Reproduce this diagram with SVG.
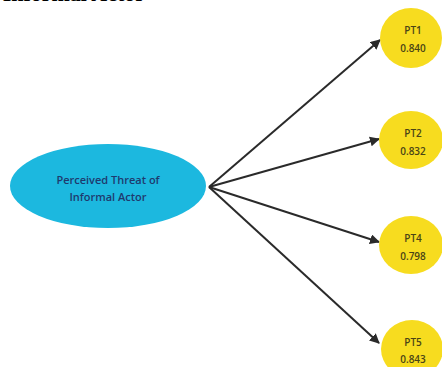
<svg xmlns="http://www.w3.org/2000/svg" width="442" height="367" viewBox="0 0 442 367">
<defs>
<style>
.ind{fill:#f7dc1f}
.lat{fill:#1cb8df}
.t{font-family:"Open Sans","Liberation Sans",sans-serif;text-anchor:middle;font-weight:600}
.it{font-size:10px;fill:#4a4416}
.lt{font-size:11px;fill:#1f3a6e}
.edge{stroke:#2a2a2a;stroke-width:2;fill:none;marker-end:url(#ah)}
</style>
<marker id="ah" viewBox="0 0 10 10" refX="9" refY="5" markerWidth="5" markerHeight="5" orient="auto">
<path d="M0,0 L10,5 L0,10 z" fill="#2a2a2a"/>
</marker>
</defs>
<rect width="442" height="367" fill="#fff"/>
<text x="145" y="1" font-family="Liberation Serif,serif" font-weight="bold" font-size="22" text-anchor="end" fill="#000">Informal Actor</text>
<g id="connectors">
<line class="edge" x1="209" y1="187" x2="380" y2="40"/>
<line class="edge" x1="209" y1="187" x2="379" y2="139"/>
<line class="edge" x1="209" y1="187" x2="379" y2="242"/>
<line class="edge" x1="209" y1="187" x2="379" y2="343"/>
</g>
<g id="latent">
<ellipse class="lat" cx="108" cy="186" rx="98" ry="42"/>
<text class="t lt" x="108" y="184">Perceived Threat of</text>
<text class="t lt" x="108" y="201">Informal Actor</text>
</g>
<g id="PT1">
<ellipse class="ind" cx="411" cy="38" rx="31" ry="30"/>
<text class="t it" x="413" y="34">PT1</text>
<text class="t it" x="413" y="52">0.840</text>
</g>
<g id="PT2">
<ellipse class="ind" cx="411" cy="140" rx="32" ry="29"/>
<text class="t it" x="413" y="137">PT2</text>
<text class="t it" x="413" y="155">0.832</text>
</g>
<g id="PT4">
<ellipse class="ind" cx="411" cy="245" rx="32" ry="29"/>
<text class="t it" x="413" y="242">PT4</text>
<text class="t it" x="413" y="260">0.798</text>
</g>
<g id="PT5">
<ellipse class="ind" cx="412" cy="349" rx="31" ry="29"/>
<text class="t it" x="413" y="346">PT5</text>
<text class="t it" x="413" y="363">0.843</text>
</g>
</svg>
